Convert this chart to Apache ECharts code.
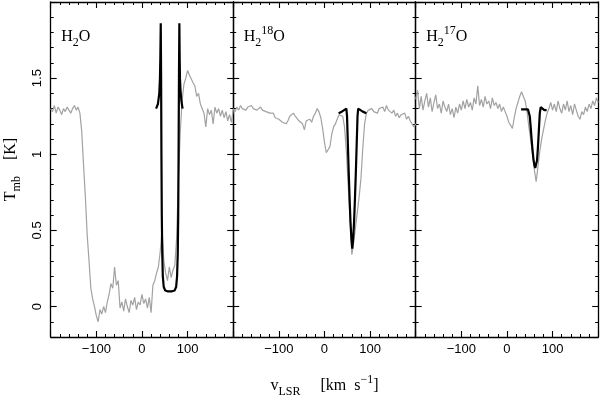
<!DOCTYPE html>
<html>
<head>
<meta charset="utf-8">
<script src="https://cdn.jsdelivr.net/npm/echarts@6/dist/echarts.min.js"></script>
<style>
html, body { margin: 0; padding: 0; background: #fff; }
#main { width: 600px; height: 398px; }
</style>
</head>
<body>
<div id="main"></div>
<script>
// channel velocities (km/s), shared by the three observed spectra
var velocity = [
  -200,-196,-192,-188,-184,-180,-176,-172,-168,-164,
  -160,-156,-152,-148,-144,-140,-136,-132,-128,-124,
  -120,-116,-112,-108,-104,-100,-96,-92,-88,-84,
  -80,-76,-72,-68,-64,-60,-56,-52,-48,-44,
  -40,-36,-32,-28,-24,-20,-16,-12,-8,-4,
  0,4,8,12,16,20,24,28,32,36,
  40,44,48,52,56,60,64,68,72,76,
  80,84,88,92,96,100,104,108,112,116,
  120,124,128,132,136,140,144,148,152,156,
  160,164,168,172,176,180,184,188,192,196,
  200
];

// observed Tmb (K)
var h2oObs = [
  1.30,1.28,1.32,1.27,1.31,1.29,1.26,1.30,1.28,1.31,
  1.29,1.27,1.30,1.32,1.29,1.31,1.27,1.15,0.93,0.72,
  0.47,0.30,0.12,0.05,0.00,-0.06,-0.10,-0.02,-0.05,0.00,
  -0.04,0.03,0.08,0.15,0.12,0.26,0.14,0.17,-0.01,0.03,
  -0.03,0.05,0.00,-0.04,0.04,0.01,0.06,-0.02,0.03,0.01,
  0.08,0.02,0.05,-0.01,0.06,-0.04,0.14,0.17,0.22,0.26,
  0.36,0.50,0.30,0.22,0.17,0.26,0.19,0.24,0.27,0.45,
  0.85,1.15,1.35,1.46,1.50,1.55,1.52,1.53,1.47,1.45,
  1.38,1.40,1.33,1.34,1.27,1.18,1.30,1.26,1.29,1.20,
  1.31,1.27,1.30,1.25,1.29,1.24,1.28,1.22,1.26,1.21,
  1.29
];
var h218oObs = [
  1.30,1.28,1.31,1.29,1.32,1.30,1.31,1.29,1.31,1.30,
  1.32,1.30,1.31,1.29,1.30,1.31,1.29,1.30,1.28,1.29,
  1.27,1.26,1.27,1.24,1.25,1.23,1.24,1.21,1.22,1.20,
  1.22,1.25,1.26,1.27,1.25,1.26,1.22,1.23,1.20,1.16,
  1.22,1.21,1.23,1.21,1.25,1.27,1.30,1.28,1.24,1.17,
  1.08,1.01,1.00,1.05,1.13,1.18,1.20,1.23,1.26,1.27,
  1.25,1.18,1.02,0.80,0.58,0.34,0.42,0.52,0.62,0.72,
  0.84,1.04,1.20,1.27,1.29,1.28,1.30,1.28,1.29,1.27,
  1.30,1.29,1.31,1.28,1.32,1.29,1.30,1.27,1.29,1.25,
  1.27,1.24,1.26,1.25,1.27,1.23,1.25,1.22,1.21,1.18,
  1.20
];
var h217oObs = [
  1.36,1.42,1.30,1.38,1.29,1.35,1.40,1.31,1.37,1.28,
  1.34,1.39,1.30,1.33,1.27,1.35,1.31,1.28,1.33,1.26,
  1.30,1.24,1.31,1.27,1.33,1.29,1.35,1.30,1.36,1.31,
  1.34,1.29,1.37,1.33,1.45,1.32,1.36,1.31,1.38,1.33,
  1.35,1.30,1.37,1.32,1.34,1.30,1.33,1.28,1.31,1.28,
  1.25,1.21,1.20,1.17,1.24,1.30,1.34,1.38,1.41,1.38,
  1.35,1.28,1.18,1.10,1.00,0.90,0.82,0.92,1.02,1.10,
  1.16,1.22,1.27,1.30,1.34,1.29,1.33,1.28,1.35,1.30,
  1.27,1.33,1.29,1.35,1.28,1.32,1.26,1.33,1.29,1.25,
  1.23,1.28,1.26,1.31,1.28,1.33,1.30,1.35,1.32,1.37,
  1.34
];

// model profiles (velocity, Tmb)
var h2oModelV = [31,35,38,39.5,40.4,41.2,42,42.7,43.5,44.5,45.7,47.7,51,56,61,66,71.5,75,77,78.5,79.5,80.3,81.1,82,82.6,83.3,84.5,86.5,89];
var h2oModelT = [1.30,1.33,1.40,1.50,1.65,1.86,1.50,1.00,0.60,0.35,0.20,0.13,0.105,0.10,0.10,0.10,0.105,0.13,0.20,0.35,0.60,1.00,1.50,1.86,1.65,1.50,1.42,1.35,1.30];
var h218oModelV = [31,38,43,46,48,49.5,51,53,55,57,59,61,63,65,67,69,71,72.5,74,76,79,84,92];
var h218oModelT = [1.27,1.28,1.29,1.30,1.30,1.25,1.10,0.90,0.72,0.56,0.45,0.38,0.45,0.56,0.72,0.90,1.10,1.25,1.30,1.30,1.29,1.28,1.27];
var h217oModelV = [31,40,46,48,50,52,54,56,58,60,62,63,64,66,68,70,72,74,77,82,87];
var h217oModelT = [1.295,1.295,1.295,1.29,1.25,1.18,1.10,1.03,0.97,0.93,0.91,0.905,0.91,0.96,1.05,1.16,1.27,1.31,1.30,1.29,1.29];

var panelNames = ['{b|H}{sub|2}{b|O}', '{b|H}{sub|2}{sup|18}{b|O}', '{b|H}{sub|2}{sup|17}{b|O}'];
var xLabels = [-100, 0, 100];
var yLabels = [0, 0.5, 1, 1.5];

var observed = [h2oObs, h218oObs, h217oObs];
var modelV = [h2oModelV, h218oModelV, h217oModelV];
var modelT = [h2oModelT, h218oModelT, h217oModelT];

function pairs(xs, ys) {
  return xs.map(function (x, i) { return [x, ys[i]]; });
}

var serif = 'Liberation Serif';
var sans = 'Liberation Sans';
var rich = {
  b: { fontFamily: serif, fontSize: 16, fontWeight: 'normal', lineHeight: 24, color: '#000' },
  sub: { fontFamily: serif, fontSize: 12, fontWeight: 'normal', lineHeight: 13, verticalAlign: 'bottom', color: '#000' },
  sup: { fontFamily: serif, fontSize: 12, fontWeight: 'normal', lineHeight: 13, verticalAlign: 'top', color: '#000' }
};

var frame = { show: true, onZero: false, lineStyle: { color: '#000', width: 1.3 } };
var tick = { show: true, inside: true, length: 6, lineStyle: { color: '#000', width: 1.1 } };
var minor = { show: true, splitNumber: 5, length: 3, lineStyle: { color: '#000', width: 1 } };

var gridLeft = [50.7, 233.2, 415.7];
var grids = [], xAxes = [], yAxes = [], titles = [], series = [];

for (var p = 0; p < 3; p++) {
  grids.push({ left: gridLeft[p], top: 2, width: 182.5, height: 335, containLabel: false, outerBoundsMode: 'none' });
  titles.push({ text: panelNames[p], left: gridLeft[p] + 10.5, top: 25, padding: 0,
    textStyle: { fontWeight: 'normal', rich: rich } });

  var bottom = {
    type: 'value', gridIndex: p, position: 'bottom', min: -200, max: 200, interval: 100,
    axisLine: frame, axisTick: tick, minorTick: minor, splitLine: { show: false },
    axisLabel: {
      color: '#000', fontFamily: sans, fontSize: 13, margin: 6,
      formatter: function (v) {
        return xLabels.indexOf(v) >= 0 ? String(v).replace('-', '\u2212') : '';
      }
    }
  };
  if (p === 1) {
    bottom.name = '{b|v}{sub|LSR}{b|     [km  s}{sup|\u22121}{b|]}';
    bottom.nameLocation = 'middle';
    bottom.nameGap = 37;
    bottom.nameTextStyle = { rich: rich };
  }
  xAxes.push(bottom);
  xAxes.push({
    type: 'value', gridIndex: p, position: 'top', min: -200, max: 200, interval: 100,
    axisLine: frame, axisTick: tick, minorTick: minor, splitLine: { show: false },
    axisLabel: { show: false }
  });

  var left = {
    type: 'value', gridIndex: p, position: 'left', min: -0.2, max: 2.0,
    axisLine: frame, axisTick: tick, minorTick: minor, splitLine: { show: false },
    axisLabel: {
      show: p === 0, rotate: 90, color: '#000', fontFamily: sans, fontSize: 13, margin: 7,
      formatter: function (v) {
        for (var k = 0; k < yLabels.length; k++) {
          if (Math.abs(v - yLabels[k]) < 1e-6) return String(yLabels[k]);
        }
        return '';
      }
    }
  };
  if (p === 0) {
    left.name = '{b|T}{sub|mb}{b|    [K]}';
    left.nameLocation = 'middle';
    left.nameGap = 28;
    left.nameTextStyle = { rich: rich };
  }
  yAxes.push(left);
  yAxes.push({
    type: 'value', gridIndex: p, position: 'right', min: -0.2, max: 2.0,
    axisLine: frame, axisTick: tick, minorTick: minor, splitLine: { show: false },
    axisLabel: { show: false }
  });

  series.push({
    type: 'line', xAxisIndex: 2 * p, yAxisIndex: 2 * p,
    data: pairs(velocity, observed[p]),
    showSymbol: false, silent: true,
    lineStyle: { color: '#a2a2a2', width: 1.2 }
  });
  series.push({
    type: 'line', xAxisIndex: 2 * p, yAxisIndex: 2 * p,
    data: pairs(modelV[p], modelT[p]),
    showSymbol: false, silent: true,
    lineStyle: { color: '#000', width: 2.2 }
  });
}

var chart = echarts.init(document.getElementById('main'));
chart.setOption({
  animation: false,
  backgroundColor: '#fff',
  title: titles,
  grid: grids,
  xAxis: xAxes,
  yAxis: yAxes,
  series: series
});
</script>
</body>
</html>
